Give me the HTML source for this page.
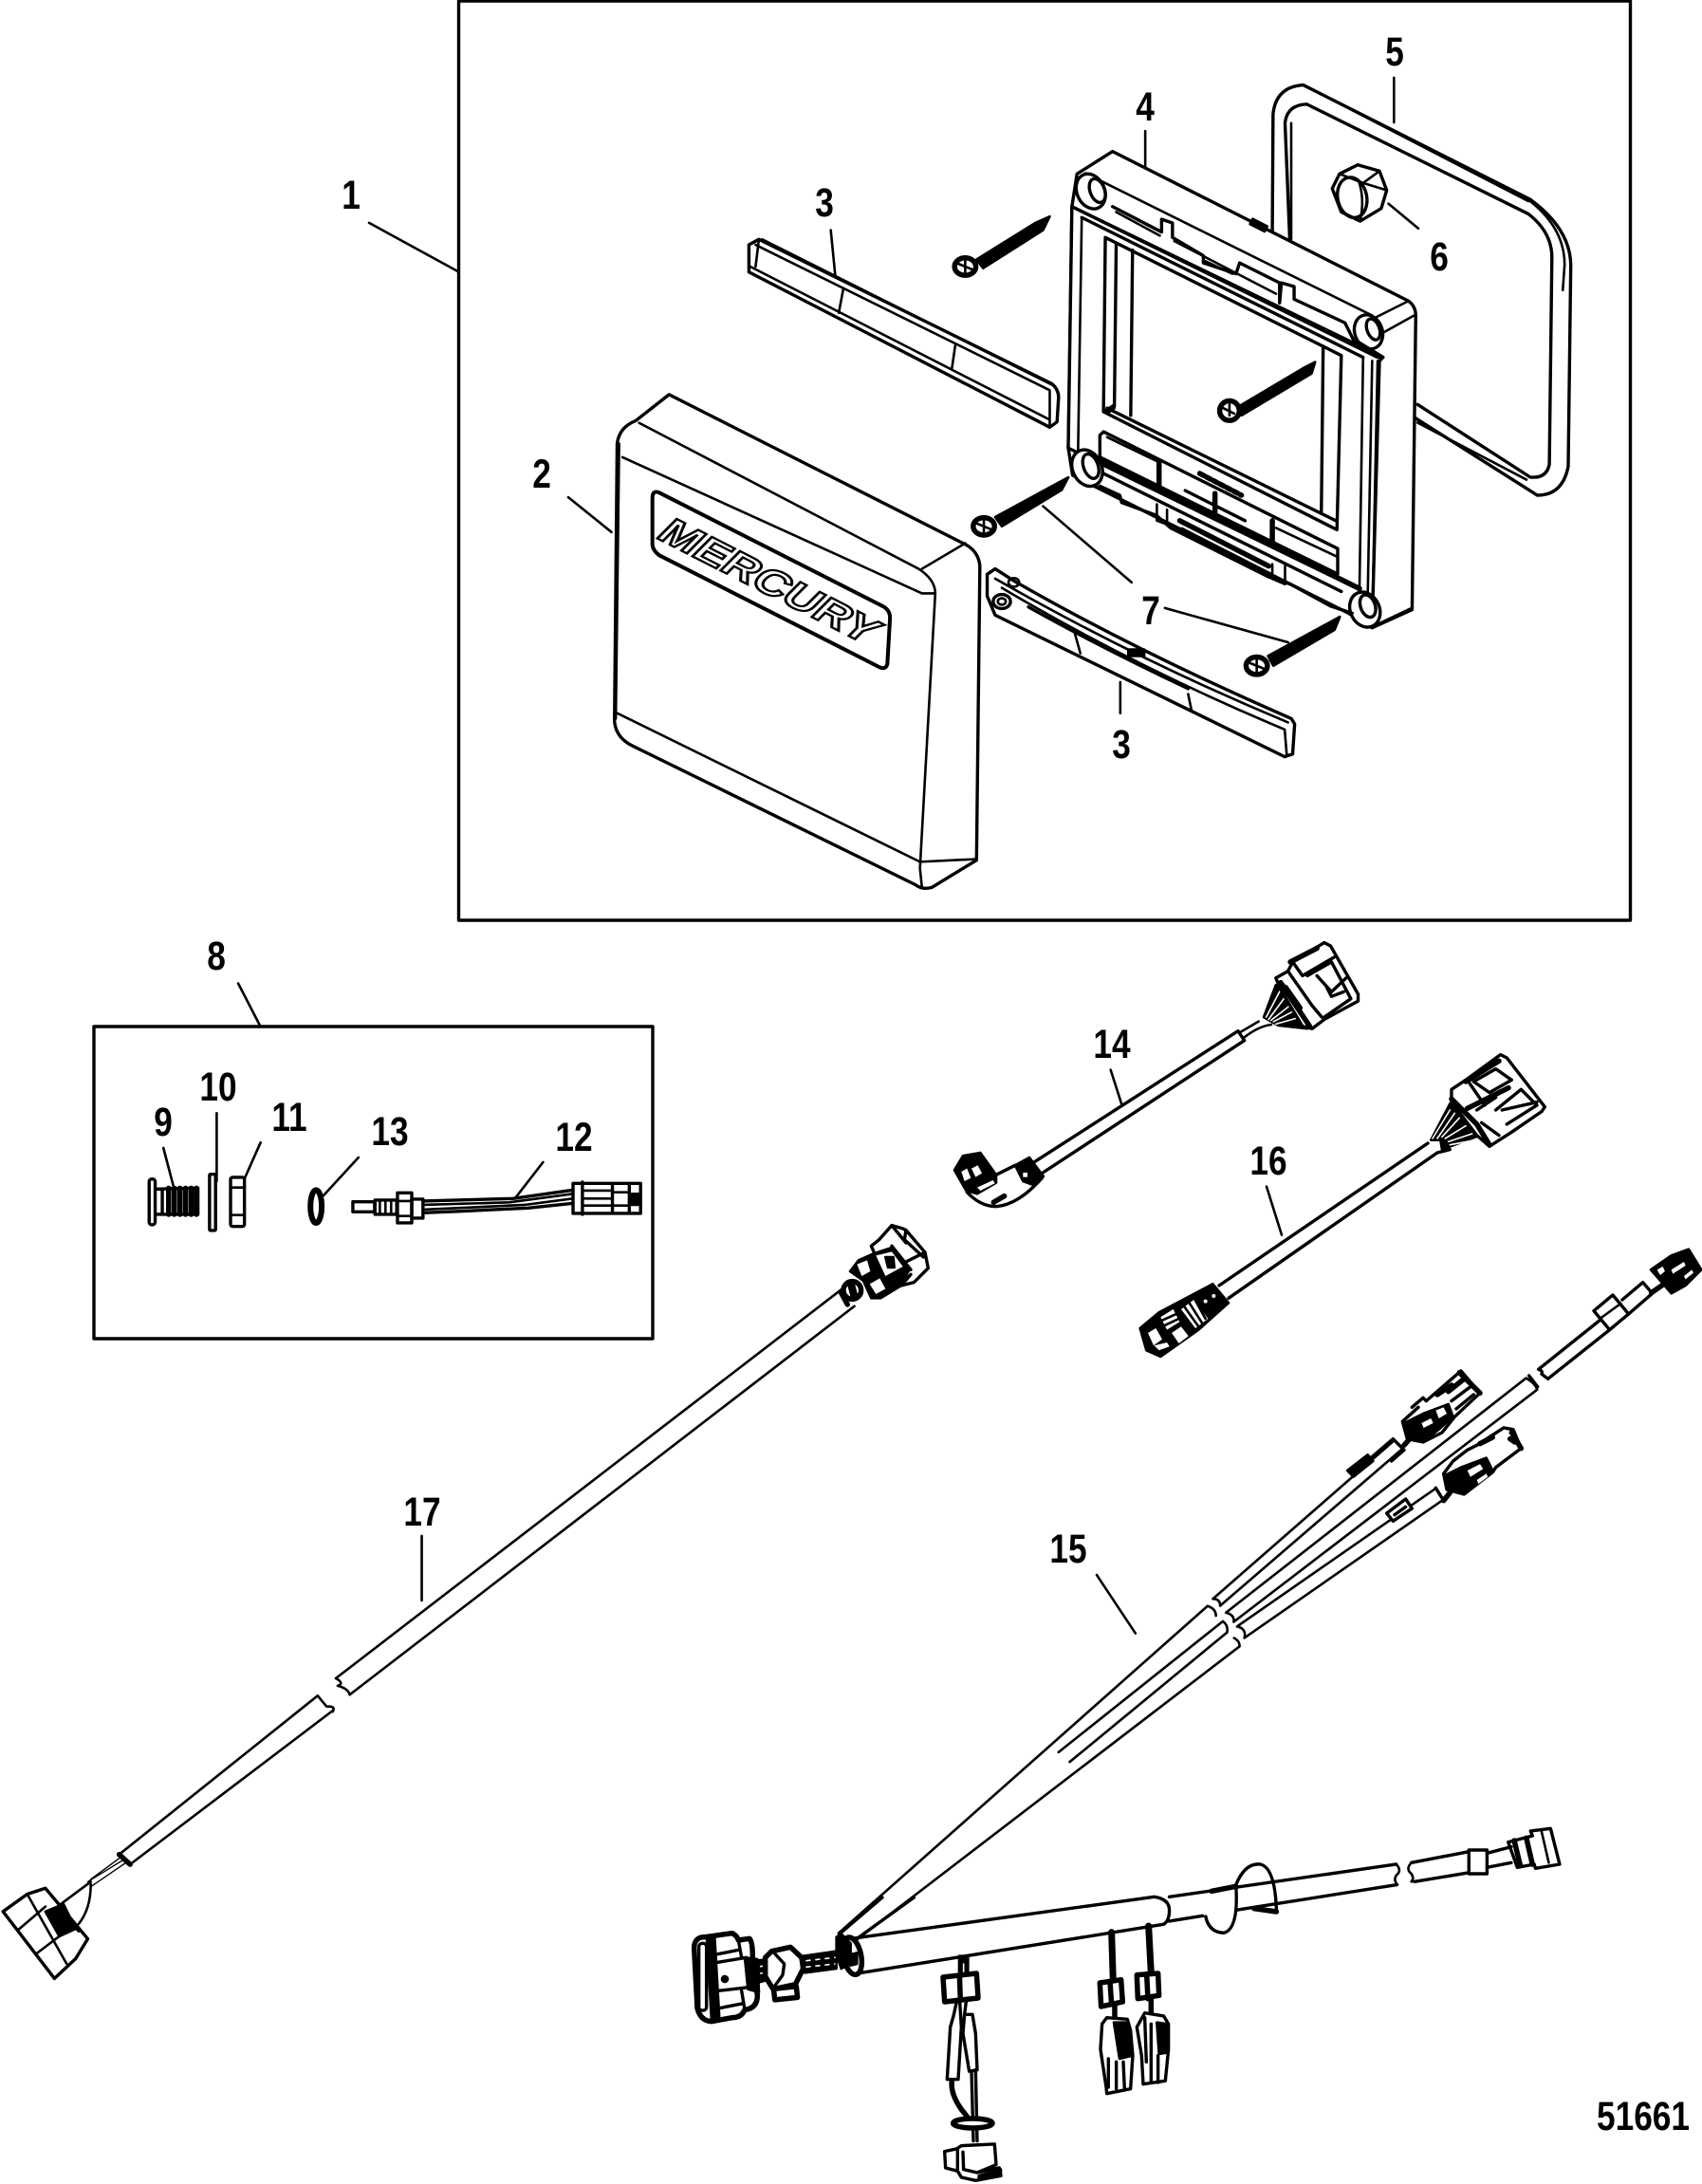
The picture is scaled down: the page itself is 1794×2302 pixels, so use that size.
<!DOCTYPE html>
<html><head><meta charset="utf-8"><title>Parts diagram</title>
<style>
html,body{margin:0;padding:0;background:#fff}
svg{display:block}
svg *{vector-effect:non-scaling-stroke}
path,line,rect,circle,ellipse,polygon,polyline{fill:none;stroke:#000;stroke-width:2.6;stroke-linejoin:round;stroke-linecap:round}
.w{fill:#fff}
.k{fill:#000}
.t{stroke-width:3.4}
.x{stroke-width:5.5}
.n{stroke-width:1.4}
.wl{stroke:#fff;stroke-width:1.6}
.ws{fill:#fff;stroke:none}
text.b{font-family:"Liberation Sans",sans-serif;font-weight:bold;font-size:43px;fill:#000;text-anchor:middle}
</style></head><body>
<svg width="1794" height="2302" viewBox="0 0 1794 2302" xmlns="http://www.w3.org/2000/svg">
<rect width="1794" height="2302" style="fill:#fff;stroke:none"/>
<rect x="483.500" y="1" width="1235" height="969" class="t"/>
<rect x="99" y="1082" width="589" height="329" class="t"/>

<!-- Frame, gasket, nut -->
<g transform="translate(1100,80) scale(.3827)">
 <path class="t" d="M630,430 L632,105 Q640,30 715,25 L1340,340 Q1450,420 1452,520 L1445,1075 Q1430,1155 1360,1155 L1020,940"/>
 <path class="t" d="M678,450 L665,130 Q670,80 725,78 L1335,380 Q1400,430 1400,500 L1393,1070 Q1385,1110 1340,1105 L1030,905"/>
 <path d="M745,40 L1335,345 M1340,345 Q1435,420 1435,520 L1430,590 M1030,955 L1330,1112 M682,130 L682,450"/>
 <polygon class="w t" points="795,310 815,270 865,245 925,262 945,315 930,365 872,400 820,375"/>
 <ellipse cx="850" cy="335" rx="40" ry="56" class="t" transform="rotate(-12 850 335)"/>
 <path d="M868,290 Q885,340 872,398 M815,270 L880,295 L925,262 M880,295 L945,315"/>
 <line x1="950" y1="352" x2="1032" y2="420"/>
 <path class="w t" d="M92,270 L190,208 L1005,620 Q1025,635 1025,660 L1015,1470 L905,1520 L840,1480 L80,1100 L68,1025 L78,360 Z"/>
 <path d="M115,268 L905,660 M915,665 L1005,620 M930,710 L1020,660 M920,1510 L1015,1465"/>
 <rect x="570" y="402" width="45" height="16" class="k" transform="rotate(27 590 410)"/>
 <polygon class="w t" points="78,360 935,775 925,785 905,1510 870,1415 68,1025"/>
 <path d="M105,395 L95,1030 M880,775 L870,1415 M905,785 L892,1470 M920,785 L905,1510"/>
 <path class="t" d="M88,365 L920,775 M105,390 L880,775"/>
 <path class="t" d="M190,360 L325,430 L325,395 L355,405 L355,445 L440,495 L440,515 L530,545 L540,515 L650,570 L650,625 L655,570 L690,580 L690,615 L830,680 L860,740"/>
 <path d="M200,375 L320,440 M445,510 L520,545 M360,455 L640,600"/>
 <polygon class="t" points="170,445 820,770 808,1250 165,925"/>
 <path class="t" d="M200,460 L195,910 M245,480 L240,935 M770,745 L765,1200 M175,915 L805,1225"/>
 <path class="k" d="M165,925 L195,905 L195,915 L175,930 Z"/>
 <g>
 <ellipse cx="130" cy="318" rx="38" ry="50" class="w t" transform="rotate(-25 130 318)"/>
 <ellipse cx="148" cy="316" rx="20" ry="34" class="t" transform="rotate(-20 148 316)"/>
 <ellipse cx="895" cy="705" rx="38" ry="48" class="w t" transform="rotate(-20 895 705)"/>
 <ellipse cx="908" cy="698" rx="17" ry="30" class="t" transform="rotate(-20 908 698)"/>
 <ellipse cx="120" cy="1080" rx="40" ry="52" class="w t" transform="rotate(-25 120 1080)"/>
 <ellipse cx="130" cy="1075" rx="20" ry="35" class="t" transform="rotate(-20 130 1075)"/>
 <ellipse cx="885" cy="1470" rx="40" ry="50" class="w t" transform="rotate(-25 885 1470)"/>
 <ellipse cx="893" cy="1460" rx="20" ry="32" class="t" transform="rotate(-20 893 1460)"/>
 </g>
 <path class="x" d="M865,735 L930,775"/>
 <!-- buttons -->
 <polygon class="t" points="155,990 165,980 810,1302 810,1372 155,1050"/>
 <path d="M175,995 L310,1060 M640,1245 L810,1325"/>
 <path class="x" d="M318,1060 L318,1135 M472,1150 L472,1215 M630,1225 L630,1290"/>
 <path class="x" style="stroke-dasharray:5 3" d="M430,1095 L545,1155"/>
 <path class="t" d="M390,1142 L555,1225"/>
 <path class="x" d="M160,1060 L870,1412"/>
 <path class="t" d="M165,1095 L820,1420 M155,1130 L210,1155 L215,1175 L310,1210 L350,1245 L620,1380 L680,1400 L790,1460 L850,1480"/>
 <path class="x" d="M375,1225 L620,1350 M380,1250 L625,1375"/>
 <path d="M312,1180 L312,1225 L340,1235 L340,1195 M630,1345 L630,1385 L665,1400 L665,1350"/>
 <!-- centre screw -->
 <path class="k" d="M530,915 L715,805 L748,788 L738,820 L545,935 Z"/>
 <circle cx="512" cy="922" r="27" class="w x"/>
 <path d="M495,915 L525,930 M512,905 L512,935"/>
 <line x1="280" y1="152" x2="280" y2="250"/>
 <line x1="965" y1="5" x2="965" y2="128"/>
</g>

<!-- Cover, strips, screws -->
<g transform="translate(600,60) scale(.7015,.574)">
 <path class="w t" d="M270,345 L285,335 L725,600 Q737,612 735,630 L733,670 L722,680 L270,395 Z"/>
 <path d="M280,345 L722,612 L722,675 M272,385 L720,665 M285,335 L280,385 M290,335 L730,605"/>
 <path d="M412,425 L405,470 M580,530 L575,572"/>
 <line x1="393" y1="318" x2="400" y2="405"/>
 <path class="w t" d="M628,950 L640,940 L668,962 Q850,1090 1085,1215 L1090,1225 L1087,1280 L1075,1285 Q850,1150 640,1025 L628,990 Z"/>
 <path d="M640,958 Q850,1105 1080,1222 M650,975 Q850,1120 1075,1235 L1078,1280"/>
 <path class="t" d="M690,1010 Q800,1085 930,1160"/>
 <circle cx="650" cy="1000" r="13" class="t"/><circle cx="650" cy="1000" r="6"/><circle cx="668" cy="965" r="8"/>
 <path d="M760,1060 L768,1095 M930,1170 L935,1200"/>
 <rect x="840" y="1088" width="24" height="12" class="k"/>
 <line x1="828" y1="1148" x2="828" y2="1205"/>
 <path class="w t" d="M72,710 Q75,680 100,668 L150,620 L590,892 Q615,905 617,935 L612,1475 L545,1525 Q530,1530 520,1520 L95,1265 Q70,1250 68,1220 Z"/>
 <path d="M105,672 L525,940 Q550,960 550,985 L527,1490 L530,1525 M530,940 L595,893 M80,735 L530,985 L550,985 M72,1205 L527,1478 L612,1473 M75,710 L70,1215"/>
 <path class="t" d="M135,800 L470,1008 Q482,1015 482,1030 L478,1115 Q475,1128 462,1118 L135,915 Q125,905 125,895 L125,810 Q125,795 135,800 Z" style="stroke-width:4"/>
 <g>
 <path class="k" d="M612,372 L700,305 L722,293 L712,318 L622,388 Z"/><circle cx="595" cy="385" r="16" class="w x"/><path d="M585,380L605,390M595,372L595,398"/>
 <path class="k" d="M640,845 L730,785 L750,772 L740,795 L650,862 Z"/><circle cx="623" cy="862" r="16" class="w x"/><path d="M613,857L633,867M623,849L623,875"/>
 <path class="k" d="M1050,1100 L1140,1040 L1158,1028 L1150,1052 L1058,1118 Z"/><circle cx="1033" cy="1118" r="16" class="w x"/><path d="M1023,1113L1043,1123M1033,1105L1033,1131"/>
 </g>
 <line x1="712" y1="825" x2="845" y2="965"/>
 <line x1="895" y1="1012" x2="1080" y2="1075"/>
</g>
<text transform="translate(690,566) rotate(27) skewX(-18)" textLength="250" lengthAdjust="spacingAndGlyphs" style="font-family:'Liberation Sans',sans-serif;font-weight:bold;font-size:40px;fill:#fff;stroke:#000;stroke-width:2.4">MERCURY</text>

<g transform="scale(1.4681)">
 <line x1="265" y1="160" x2="329" y2="195"/>
 <line x1="408" y1="357" x2="439" y2="382"/>
 <line x1="171" y1="706" x2="187" y2="737"/>
</g>

<!-- Kit -->
<g transform="translate(90,1060) scale(.3954,.3333)">
 <line x1="208" y1="450" x2="235" y2="572"/>
 <line x1="350" y1="340" x2="350" y2="555"/>
 <line x1="467" y1="433" x2="425" y2="545"/>
 <line x1="728" y1="480" x2="635" y2="600"/>
 <line x1="1220" y1="495" x2="1145" y2="610"/>
 <rect x="170" y="548" width="16" height="145" rx="8" class="t"/>
 <path class="t" d="M187,580 L300,577 L300,660 L187,660 M205,580 L205,660"/>
 <path class="x" d="M222,577V660M237,577V660M252,577V660M267,577V660M282,577V660M296,577V660"/>
 <rect x="331" y="533" width="16" height="178" rx="3" class="t"/>
 <rect x="387" y="543" width="37" height="155" rx="6" class="t"/>
 <path d="M387,575H424M387,662H424"/>
 <ellipse cx="615" cy="635" rx="15" ry="52" style="stroke-width:6"/>
 <rect x="713" y="620" width="58" height="32" class="t"/>
 <rect x="772" y="615" width="58" height="45" class="t"/>
 <path d="M785,615V660M800,615V660M815,615V660"/>
 <rect x="832" y="592" width="38" height="95" class="t"/>
 <path d="M832,618H870M832,665H870"/>
 <rect x="870" y="612" width="30" height="60" class="t"/>
 <path class="t" d="M900,618 L1140,610 L1300,583 M900,655 L1000,650 L1180,640 L1300,625"/>
 <path d="M900,630 L1130,622 L1300,595 M900,645 L1170,630 L1300,610"/>
 <rect x="1300" y="562" width="180" height="95" class="w t"/>
 <path class="t" d="M1325,558V660M1405,566V655M1450,566V655"/>
 <path d="M1325,585H1405M1325,610H1405M1325,632H1405M1405,590H1450M1405,632H1450"/>
 <rect x="1450" y="595" width="30" height="35" class="k"/>
</g>

<!-- 14 right connector + long branch lines -->
<g transform="translate(980,980) scale(.5102,.4847)">
 <polygon class="k" points="690,190 715,120 760,140 780,215 720,208"/>
 <path class="wl" d="M695,190L725,130M700,195L735,145M705,197L750,160M710,200L755,175M715,205L765,190"/>
 <polygon class="w t" points="715,105 740,90 750,70 815,28 828,35 885,140 885,155 815,195 790,215 770,210 725,130"/>
 <path class="t" d="M740,90 L790,165 L810,190 M750,70 L770,100 L835,60 M780,100 L830,70 L870,150 L815,190 M800,100L830,135L860,105M820,125L830,145L855,135"/>
 <path class="x" d="M735,125 L765,170 M745,70 L800,40 M725,115 L785,210"/>
 <!-- branch lines -->
 <path class="" d="M585,1455 L960,1110 M600,1470 L975,1130 M585,1455 Q600,1455 600,1470"/>
 <path d="M612,1485 L1232,975 M628,1505 L1255,1000 M612,1485 Q630,1490 628,1505 M1232,975 Q1250,985 1255,1000"/>
 <path d="M635,1515 L1045,1215 M650,1540 L1060,1240 M635,1515 Q655,1520 650,1540"/>
 <line x1="345" y1="1403" x2="425" y2="1530"/>
</g>

<!-- 14 cable -->
<g transform="translate(950,980) scale(.3333)">
 <line x1="662" y1="443" x2="697" y2="552"/>
 <path class="t" d="M420,735 L1065,320 L1085,350 L445,770"/>
 <path d="M1070,325 L1130,290 M1085,340 Q1130,305 1170,300"/>
 <path class="w t" d="M300,775 L360,745 L445,785 Q370,870 300,875 Q250,875 208,830 Z"/>
 <polygon class="k" points="360,745 405,720 450,780 420,808 385,795"/>
 <rect x="385" y="768" width="14" height="14" class="ws"/>
 <polygon class="k" points="168,760 195,715 250,705 300,775 300,800 240,835 205,825"/>
 <polygon class="ws" points="190,765 208,755 220,785 200,795"/>
 <polygon class="ws" points="222,755 242,745 255,770 235,782"/>
 <polygon class="ws" points="240,815 290,792 296,802 250,825"/>
 <path class="x" d="M292,862 L326,842"/>
</g>

<!-- 16 cable -->
<g transform="translate(1180,1090) scale(.3333)">
 <line x1="465" y1="482" x2="513" y2="635"/>
 <path class="t" d="M315,795 L975,345 M345,835 L1005,375 L1045,365"/>
 <polygon class="k" points="985,335 1045,220 1140,320 1020,365 1015,335"/>
 <path class="wl" d="M990,330L1045,240M1005,330L1060,250M1020,325L1075,265M1030,330L1095,290M1040,340L1115,315M1045,350L1125,335"/>
 <polygon class="w t" points="1050,175 1095,145 1205,65 1225,75 1345,230 1335,245 1240,310 1170,355 1130,320 1050,215"/>
 <path class="x" d="M1050,205 L1130,285 L1170,350 M1095,150 L1200,85 M1100,235 L1230,170"/>
 <path class="t" d="M1100,145 L1155,225 M1120,150 L1190,110 L1240,145 L1170,185 Z M1190,240 L1270,175 L1320,225 L1225,285 M1210,240 L1320,215 M1130,240 L1190,200 M1145,280 L1200,320"/>
 <polygon class="k" points="65,930 125,880 295,790 345,850 250,935 130,1020 85,1000"/>
 <polygon class="ws" points="90,945 115,930 135,965 108,985"/>
 <polygon class="ws" points="165,945 195,925 218,955 188,978"/>
 <polygon class="ws" points="195,870 235,840 280,900 240,930"/>
 <polygon class="ws" points="130,895 170,870 190,910 150,935"/>
 <path class="k" d="M205,862 L250,925 M222,852 L262,915 M240,842 L272,900"/>
 <path class="k" d="M135,905 L180,885 M145,920 L188,900"/>
 <circle cx="272" cy="845" r="6" class="ws"/><circle cx="298" cy="828" r="6" class="ws"/>
 <polygon class="ws" points="110,985 150,975 158,988 125,1000"/>
</g>

<!-- Branch connectors -->
<g transform="translate(1400,1280) scale(.3333)">
 <path class="t" d="M665,490 L865,330 M695,520 L890,365 M665,490 Q680,495 675,505 L695,520"/>
 <polygon class="w t" points="840,305 900,255 950,315 890,365"/>
 <line x1="862" y1="328" x2="925" y2="282"/>
 <path class="t" d="M930,270 L995,215 L1025,250 L950,315"/>
 <path class="x" d="M1022,248 L1055,225"/>
 <polygon class="k" points="1020,175 1085,130 1140,110 1180,175 1130,225 1085,250 1055,215"/>
 <polygon class="ws" points="1040,175 1058,165 1065,180 1050,192"/>
 <polygon class="ws" points="1085,175 1125,150 1130,162 1090,188"/>
 <polygon class="ws" points="1125,195 1150,175 1155,185 1130,205"/>
 <!-- A -->
 <polygon class="k" points="60,810 125,760 142,780 80,830"/>
 <path class="t" d="M135,770 L205,710 L240,745 L200,780 M205,710 L240,745"/>
 <path class="x" d="M240,730 L262,705"/>
 <path class="t" d="M265,610 L300,580 L310,590 L420,495 L480,565 L400,640 L360,690 L300,720 L250,710 L235,655 L285,610"/>
 <polygon class="k" points="240,660 300,630 380,600 395,640 350,680 300,720 250,705"/>
 <polygon class="ws" points="340,620 365,610 375,630 350,645"/>
 <polygon class="ws" points="295,660 325,645 332,660 302,675"/>
 <path class="x" d="M415,500 L480,565 M430,520 L380,560 M345,570 L390,540"/>
 <path class="t" d="M390,590 L450,545 M405,615 L460,570"/>
 <!-- B sleeve & end break -->
 <path class="t" d="M635,510 L662,545"/>
 <!-- C -->
 <polygon class="w t" points="185,945 245,900 265,930 205,970"/>
 <path class="t" d="M210,950 L245,925"/>
 <path class="x" d="M365,905 L385,880"/>
 <path class="t" d="M340,865 L365,905"/>
 <path class="t" d="M395,780 L440,745 L470,730 L555,675 L585,680 L610,740 L530,800 L520,815 L430,885 L375,870 L365,820 Z"/>
 <polygon class="k" points="370,825 420,800 500,770 520,810 430,885 375,870"/>
 <polygon class="ws" points="440,810 480,790 490,805 450,830"/>
 <polygon class="ws" points="470,840 500,820 505,830 475,852"/>
 <path class="x" d="M580,690 L610,740 M575,710 L590,720 M480,725 L520,705"/>
</g>

<!-- Harness lower bundle -->
<g transform="scale(1.4681)">
 <path d="M602,1388 L867,1153 Q873,1155 873,1160 M616,1392 L890,1182 Q890,1178 886,1176"/>
 <path d="M760,1258 L878,1164 Q882,1167 881,1172 L768,1265"/>
</g>

<!-- Trunk -->
<g transform="translate(700,1900) scale(.6378,.3333)">
 <path class="t" d="M310,430 L810,298 Q835,305 835,340 Q835,375 825,385 L320,540"/>
 <path class="t" d="M835,298 L1210,195 M835,375 L890,358 M945,340 L1210,260"/>
 <path d="M1210,195 Q1220,215 1210,230 Q1205,245 1212,260 M1235,190 Q1225,210 1235,225 Q1240,240 1235,250"/>
 <path class="t" d="M1235,190 L1330,155 M1240,250 L1335,220"/>
 <rect x="1330" y="150" width="30" height="75" class="w t"/>
 <path class="t" d="M1360,160 L1400,140 M1360,205 L1400,190"/>
 <path class="t" d="M1395,125 L1435,105 L1432,90 L1465,82 L1480,195 L1440,208 L1438,195 L1410,205 Z"/>
 <path class="x" d="M1405,120 L1415,200 M1425,112 L1435,195"/>
 <path d="M1450,90 L1462,190"/>
 <path class="t" d="M945,260 Q960,190 985,195 Q1010,205 1012,345 M895,360 Q900,410 925,412 Q950,400 945,260"/>
 <path class="x" d="M905,280 L945,265 M975,335 L1012,345"/>
</g>

<!-- Left connector of harness -->
<g transform="translate(700,2000) scale(.3333)">
 <path class="t" d="M555,115 L690,0 M610,130 L790,0"/>
 <path class="w x" d="M95,160 Q95,125 130,125 L215,113 Q230,120 235,135 L270,130 Q280,140 280,190 L295,310 Q295,350 255,355 Q245,380 215,380 L150,392 Q115,390 105,350 Z"/>
 <polygon class="k" points="135,130 160,125 175,385 150,392"/>
 <rect x="110" y="145" width="24" height="212" rx="11" class="t"/>
 <path class="t" d="M165,180 L240,165 M170,205 L260,190 M172,295 L260,285 M175,350 L250,335 M235,135 L245,190 M245,295 L255,355"/>
 <polygon class="k" points="255,190 295,195 300,300 265,290"/>
 <circle cx="192" cy="258" r="9" class="k"/>
 <polygon class="k" points="290,200 375,190 380,245 295,270"/>
 <path class="wl" style="stroke-dasharray:4 6" d="M305,218 L370,208 M305,240 L370,228"/>
 <polygon class="w x" points="320,190 340,170 400,157 435,190 440,225 415,275 345,290 320,250"/>
 <path class="t" d="M345,172 L380,210 L375,245 L350,280"/>
 <rect x="348" y="285" width="72" height="35" class="w x" transform="rotate(-6 384 302)"/>
 <polygon class="k" points="440,185 545,170 545,225 445,238"/>
 <path class="wl" style="stroke-dasharray:4 6" d="M450,200 L540,190 M450,220 L540,210"/>
 <ellipse cx="595" cy="185" rx="28" ry="60" class="w x" transform="rotate(-12 595 185)"/>
 <polygon class="k" points="545,125 560,115 590,145 590,210 560,225 545,180"/>
 <polygon class="k" points="590,180 610,175 610,210 590,215"/>
</g>

<!-- Pendants -->
<g transform="translate(950,2000) scale(.3333)">
 <rect x="183" y="185" width="28" height="55" class="k"/>
 <path class="wl" d="M197,210V240"/>
 <polygon class="w x" points="132,252 238,240 243,318 137,330"/>
 <path class="x" d="M184,245 L187,325"/>
 <path class="t" d="M165,375 L155,410 L145,575 L180,575 L190,410 L185,330 M175,330 L165,375"/>
 <path class="t" d="M205,330 L200,370 L225,370 L235,430 L240,545 L215,550 L195,430 L200,370"/>
 <path class="x" d="M160,580 Q155,620 190,670 Q215,700 225,720"/>
 <path class="t" d="M222,550 L228,770 M235,545 L240,770"/>
 <ellipse cx="226" cy="714" rx="62" ry="15" class="w x"/>
 <polygon class="w t" points="137,803 175,795 190,785 295,780 300,845 240,870 310,855 315,880 235,895 190,885 178,865 140,855"/>
 <path class="t" d="M195,805 L197,860 L240,870 M178,795 L178,865"/>
 <polygon class="k" points="245,880 315,860 315,878 245,893"/>
 <path class="x" d="M665,110 L670,265 M782,90 L790,240" style="stroke-width:7"/>
 <polygon class="w x" points="628,270 695,260 700,330 632,345"/>
 <path class="x" d="M660,265 L665,338"/>
 <polygon class="w x" points="745,245 812,240 815,310 748,320"/>
 <path class="x" d="M776,242 L780,320"/>
 <path class="x" d="M675,340 L675,385 M790,320 L790,365"/>
 <path class="w t" d="M650,380 L715,385 L725,420 L732,500 L725,605 L650,620 L648,600 L630,480 L635,400 Z"/>
 <polygon class="k" points="672,395 715,395 732,500 690,510"/>
 <path class="t" d="M680,520 L680,605 M702,520 L706,605 M655,510 L655,600"/>
 <path class="w t" d="M745,410 L770,365 L830,375 L845,400 L845,480 L835,580 L765,590 L760,500 Z"/>
 <polygon class="k" points="808,395 840,400 845,490 815,495"/>
 <path class="t" d="M790,400 L790,585 M812,500 L812,585 M770,380 L775,520"/>
</g>

<!-- Cable 17 -->
<g transform="translate(0,1280) scale(.6378,.523)">
 <line x1="697" y1="648" x2="697" y2="778"/>
 <path d="M555,935 L1392,150 M578,968 L1412,185"/>
 <path d="M555,935 Q570,945 558,950 Q575,955 578,968"/>
 <path d="M197,1290 L525,970 M215,1310 L550,1000 M525,970 Q535,985 540,992 Q555,990 550,1002"/>
 <path class="x" d="M197,1290 L215,1310"/>
 <path class="n" d="M200,1295 L150,1340 M210,1305 L150,1355 M205,1300 L145,1345"/>
 <path d="M150,1345 L95,1395 M150,1350 Q150,1400 130,1430"/>
 <polygon class="w t" points="5,1405 45,1370 75,1358 145,1460 125,1500 90,1540"/>
 <path d="M30,1442 L75,1395 M60,1490 L125,1430 M45,1370 L110,1510 M95,1395 L130,1445"/>
 <polygon class="k" points="75,1405 105,1390 125,1440 98,1455"/>
</g>
<g transform="translate(840,1260) scale(.3333)">
 <polygon class="w t" points="235,160 260,140 300,95 335,105 345,110 405,180 415,230 370,275 330,285 270,240"/>
 <path class="t" d="M300,95 L345,150 M345,110 L340,140 L400,195 M300,160 L360,235 M345,210 L405,180 M330,285 L360,250"/>
 <polygon class="k" points="168,240 195,205 240,185 300,165 355,235 330,285 265,325 235,325 210,270"/>
 <polygon class="ws" points="190,218 222,205 232,240 205,255"/>
 <polygon class="ws" points="250,190 300,178 335,225 280,255"/>
 <polygon class="k" points="280,195 305,195 308,228 288,228"/>
 <polygon class="ws" points="230,280 262,262 280,295 250,312"/>
 <circle cx="175" cy="300" r="28" class="w x"/>
 <rect x="168" y="282" width="16" height="34" class="k" transform="rotate(-15 176 299)"/>
 <path class="x" d="M140,308 L160,345"/>
</g>

<!-- Labels -->
<g>
<text class="b" transform="translate(370,220) scale(.82,1)">1</text>
<text class="b" transform="translate(571,514) scale(.82,1)">2</text>
<text class="b" transform="translate(869,228) scale(.82,1)">3</text>
<text class="b" transform="translate(1182,799) scale(.82,1)">3</text>
<text class="b" transform="translate(1207,127) scale(.82,1)">4</text>
<text class="b" transform="translate(1470,69) scale(.82,1)">5</text>
<text class="b" transform="translate(1517,285) scale(.82,1)">6</text>
<text class="b" transform="translate(1213,658) scale(.82,1)">7</text>
<text class="b" transform="translate(228,1022) scale(.82,1)">8</text>
<text class="b" transform="translate(172,1197) scale(.82,1)">9</text>
<text class="b" transform="translate(230,1160) scale(.82,1)">10</text>
<text class="b" transform="translate(305,1192) scale(.82,1)">11</text>
<text class="b" transform="translate(605,1213) scale(.82,1)">12</text>
<text class="b" transform="translate(411,1207) scale(.82,1)">13</text>
<text class="b" transform="translate(1172,1115) scale(.82,1)">14</text>
<text class="b" transform="translate(1126,1647) scale(.82,1)">15</text>
<text class="b" transform="translate(1337,1238) scale(.82,1)">16</text>
<text class="b" transform="translate(445,1608) scale(.82,1)">17</text>
<text class="b" transform="translate(1732,2245) scale(.82,1)">51661</text>
</g>
</svg>
</body></html>
